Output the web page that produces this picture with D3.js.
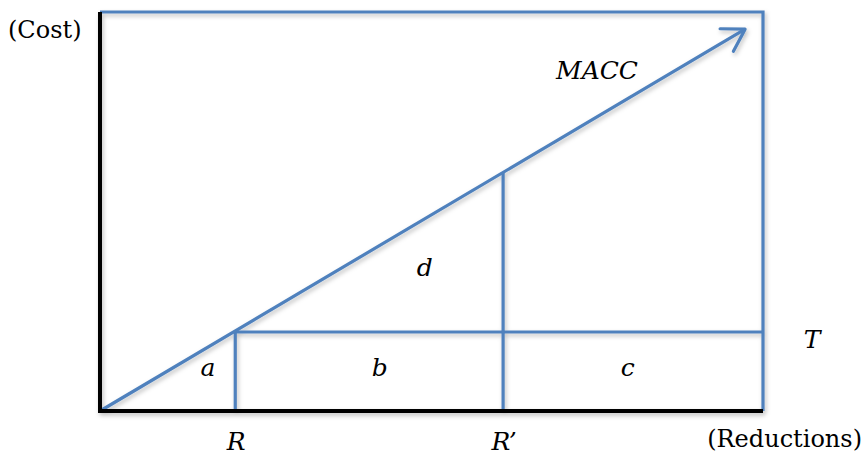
<!DOCTYPE html>
<html>
<head>
<meta charset="utf-8">
<script src="https://cdn.jsdelivr.net/npm/d3@7"></script>
<style>
  html, body { margin: 0; padding: 0; background: #fff; }
  svg { display: block; }
</style>
</head>
<body>
<div id="chart"></div>
<script>
var width = 867;
var height = 455;

// data (unit space: 0..1 on both axes)
var maccLine = [[0, 0], [0.973, 0.957]];
var reductions = [{ name: "R", x: 0.204 }, { name: "R\u2019", x: 0.608 }];
var target = 0.198;
var areaLabels = [
  { name: "a", x: 0.163, y: 0.09 },
  { name: "b", x: 0.422, y: 0.09 },
  { name: "c", x: 0.796, y: 0.09 },
  { name: "d", x: 0.49, y: 0.34 }
];

var x = d3.scaleLinear().domain([0, 1]).range([100, 763]);
var y = d3.scaleLinear().domain([0, 1]).range([411, 12]);
var blue = "#4f81bd";

function maccAt(v) {
  var p0 = maccLine[0], p1 = maccLine[1];
  return p0[1] + (p1[1] - p0[1]) * (v - p0[0]) / (p1[0] - p0[0]);
}

var svg = d3.select("#chart").append("svg")
    .attr("width", width)
    .attr("height", height);

var defs = svg.append("defs");
var f = defs.append("filter").attr("id", "shadow")
    .attr("x", "-10%").attr("y", "-10%").attr("width", "130%").attr("height", "130%");
f.append("feDropShadow")
    .attr("dx", 1.5).attr("dy", 2.5).attr("stdDeviation", 2)
    .attr("flood-color", "#000").attr("flood-opacity", 0.25);

var g = svg.append("g").attr("filter", "url(#shadow)");

// box
g.append("path")
    .attr("d", `M${x(0)},${y(1)}H${x(1)}V${y(0)}`)
    .attr("fill", "none")
    .attr("stroke", blue)
    .attr("stroke-width", 3.2);

// target line
g.append("line")
    .attr("x1", x(reductions[0].x)).attr("x2", x(1))
    .attr("y1", y(target)).attr("y2", y(target))
    .attr("stroke", blue).attr("stroke-width", 3.2);

// reduction verticals
g.selectAll(".red")
  .data(reductions)
  .join("line")
    .attr("class", "red")
    .attr("x1", d => x(d.x)).attr("x2", d => x(d.x))
    .attr("y1", y(0)).attr("y2", d => y(maccAt(d.x)))
    .attr("stroke", blue).attr("stroke-width", 3.2);

// MACC line with open arrowhead
var x0 = x(maccLine[0][0]), y0 = y(maccLine[0][1]);
var x1 = x(maccLine[1][0]), y1 = y(maccLine[1][1]);
g.append("line")
    .attr("x1", x0).attr("y1", y0).attr("x2", x1).attr("y2", y1)
    .attr("stroke", blue).attr("stroke-width", 3.2);
var ang = Math.atan2(y1 - y0, x1 - x0);
var len = 25, spread = 0.55;
var head = [
  [x1 - len * Math.cos(ang - spread), y1 - len * Math.sin(ang - spread)],
  [x1, y1],
  [x1 - len * Math.cos(ang + spread), y1 - len * Math.sin(ang + spread)]
];
g.append("path")
    .attr("d", d3.line()(head))
    .attr("fill", "none")
    .attr("stroke", blue).attr("stroke-width", 3.2)
    .attr("stroke-linecap", "round")
    .attr("stroke-linejoin", "round");

// axes
g.append("path")
    .attr("d", `M${x(0)},${y(1)}V${y(0)}H${x(1)}`)
    .attr("fill", "none")
    .attr("stroke", "#000")
    .attr("stroke-width", 4);

// text
var serif = "'DejaVu Serif', 'Liberation Serif', serif";
svg.append("text")
    .attr("x", 8).attr("y", 38)
    .attr("font-family", serif).attr("font-size", 24)
    .text("(Cost)");
svg.append("text")
    .attr("x", 862).attr("y", 447)
    .attr("text-anchor", "end")
    .attr("font-family", serif).attr("font-size", 24)
    .text("(Reductions)");
svg.append("text")
    .attr("x", 597).attr("y", 79)
    .attr("text-anchor", "middle")
    .attr("font-family", serif).attr("font-style", "italic").attr("font-size", 25)
    .text("MACC");
svg.append("text")
    .attr("x", 812).attr("y", 348)
    .attr("text-anchor", "middle")
    .attr("font-family", serif).attr("font-style", "italic").attr("font-size", 25)
    .text("T");

svg.selectAll(".rlab")
  .data(reductions)
  .join("text")
    .attr("class", "rlab")
    .attr("x", d => x(d.x) + 1).attr("y", 450)
    .attr("text-anchor", "middle")
    .attr("font-family", serif).attr("font-style", "italic").attr("font-size", 25)
    .text(d => d.name);

svg.selectAll(".alab")
  .data(areaLabels)
  .join("text")
    .attr("class", "alab")
    .attr("x", d => x(d.x)).attr("y", d => y(d.y) + 1)
    .attr("text-anchor", "middle")
    .attr("font-family", serif).attr("font-style", "italic").attr("font-size", 25)
    .text(d => d.name);
</script>
</body>
</html>
